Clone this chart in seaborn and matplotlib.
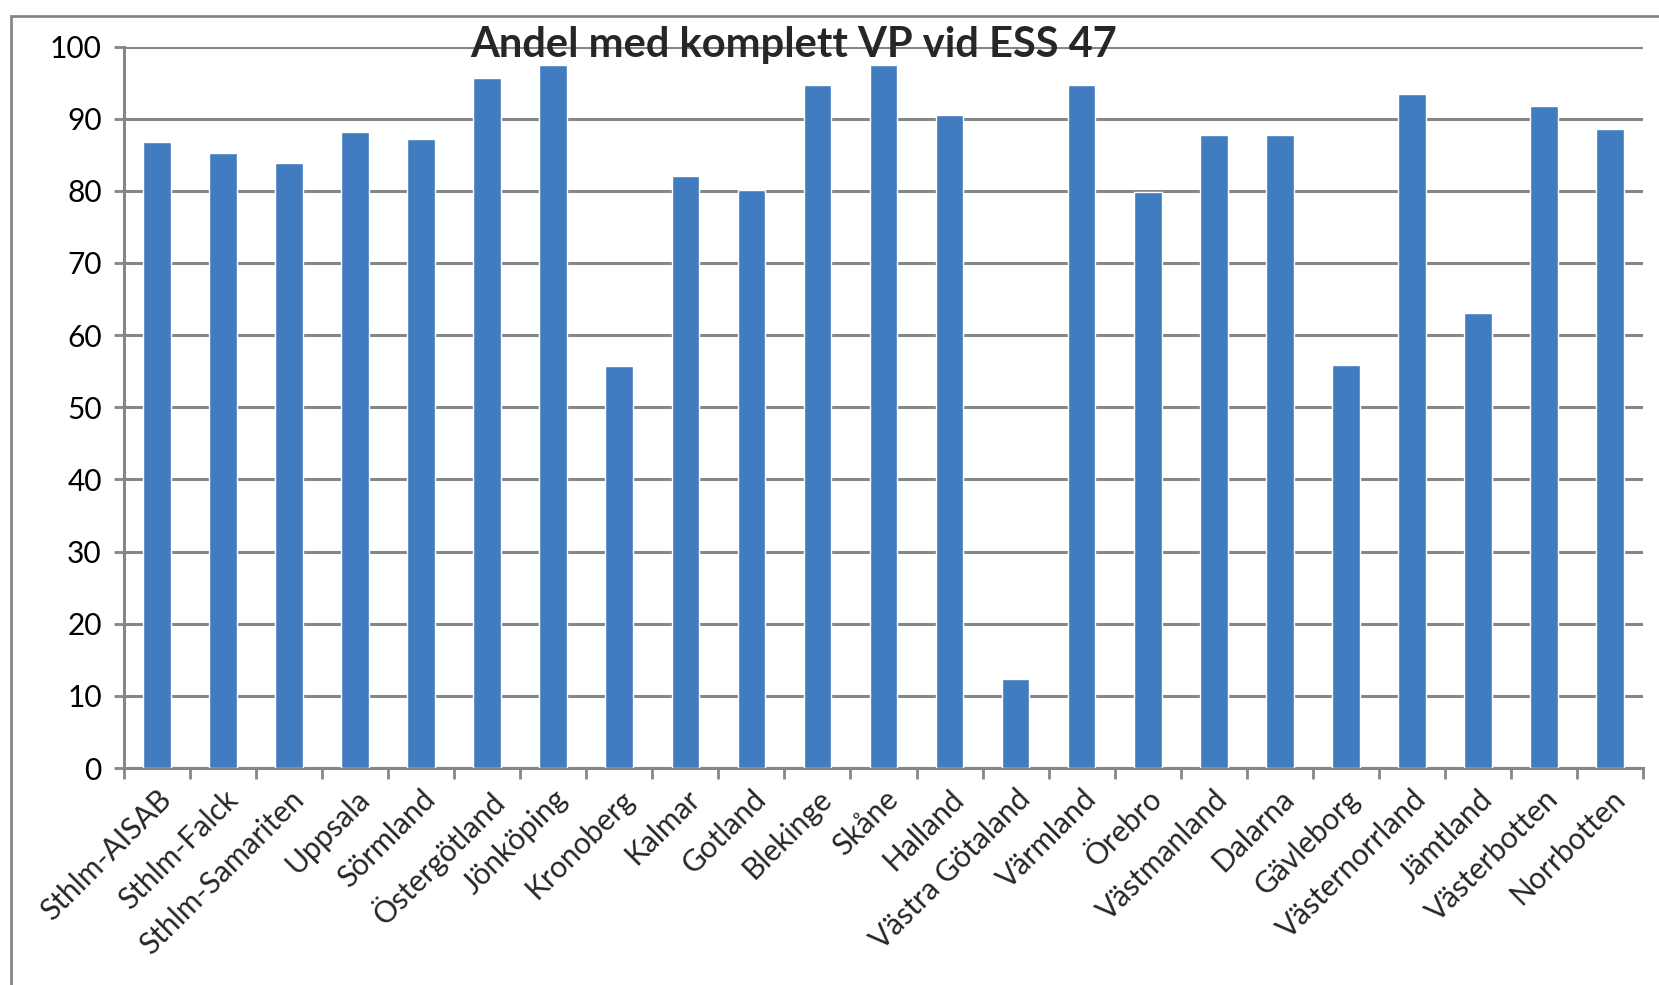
import numpy as np
import pandas as pd
import matplotlib
matplotlib.use("Agg")
import matplotlib.pyplot as plt
import seaborn as sns
from matplotlib.patches import Rectangle
from matplotlib.ticker import MultipleLocator, FixedLocator

regions = ["Sthlm-AISAB", "Sthlm-Falck", "Sthlm-Samariten", "Uppsala", "Sörmland",
           "Östergötland", "Jönköping", "Kronoberg", "Kalmar", "Gotland", "Blekinge",
           "Skåne", "Halland", "Västra Götaland", "Värmland", "Örebro", "Västmanland",
           "Dalarna", "Gävleborg", "Västernorrland", "Jämtland", "Västerbotten", "Norrbotten"]
andel = [86.7, 85.3, 83.9, 88.1, 87.2, 95.6, 97.4, 55.7, 82.0, 80.1, 94.6,
         97.4, 90.5, 12.3, 94.6, 79.9, 87.7, 87.7, 55.9, 93.4, 63.0, 91.8, 88.6]
title = "Andel med komplett VP vid ESS 47"

df = pd.DataFrame({"region": regions, "andel": andel})

sns.set_style("white")
plt.rcParams["font.family"] = ["Lato", "DejaVu Sans"]

W, H = 1659, 985
fig = plt.figure(figsize=(W / 100, H / 100), dpi=100)
ax = fig.add_axes([124 / W, 1 - 768 / H, (1643 - 124) / W, (768 - 46.5) / H])

grey = "#868686"
sns.barplot(data=df, x="region", y="andel", color="#407CBF", saturation=1,
            width=0.42, ax=ax, zorder=3)

ax.set_xlim(-0.5, len(regions) - 0.5)
ax.set_ylim(0, 100)
ax.yaxis.set_major_locator(MultipleLocator(10))
ax.grid(axis="y", color=grey, linewidth=2.2, zorder=0)
ax.set_axisbelow(True)
ax.set_xlabel("")
ax.set_ylabel("")

for s in ["top", "right"]:
    ax.spines[s].set_visible(False)
for s in ["left", "bottom"]:
    ax.spines[s].set_color(grey)
    ax.spines[s].set_linewidth(2.2)

ax.tick_params(axis="y", left=True, length=7, width=2, color=grey,
               labelsize=21.5, pad=9, labelcolor="black")
ax.tick_params(axis="x", which="major", length=0, labelsize=21.5, pad=12)
ax.xaxis.set_minor_locator(FixedLocator(np.arange(-0.5, len(regions), 1.0)))
ax.tick_params(axis="x", which="minor", bottom=True, length=8, width=2, color=grey)
for lab in ax.get_xticklabels():
    lab.set_rotation(45)
    lab.set_ha("right")
    lab.set_rotation_mode("anchor")

fig.text(794 / W, 1 - 45 / H, title, ha="center", va="center",
         fontsize=30, fontweight="bold", zorder=10)

fig.patches.append(Rectangle((11 / W, -0.1), 1.2, 1.1 - 16 / H, transform=fig.transFigure,
                             fill=False, edgecolor=grey, linewidth=2))

fig.savefig("out.png", dpi=100)
